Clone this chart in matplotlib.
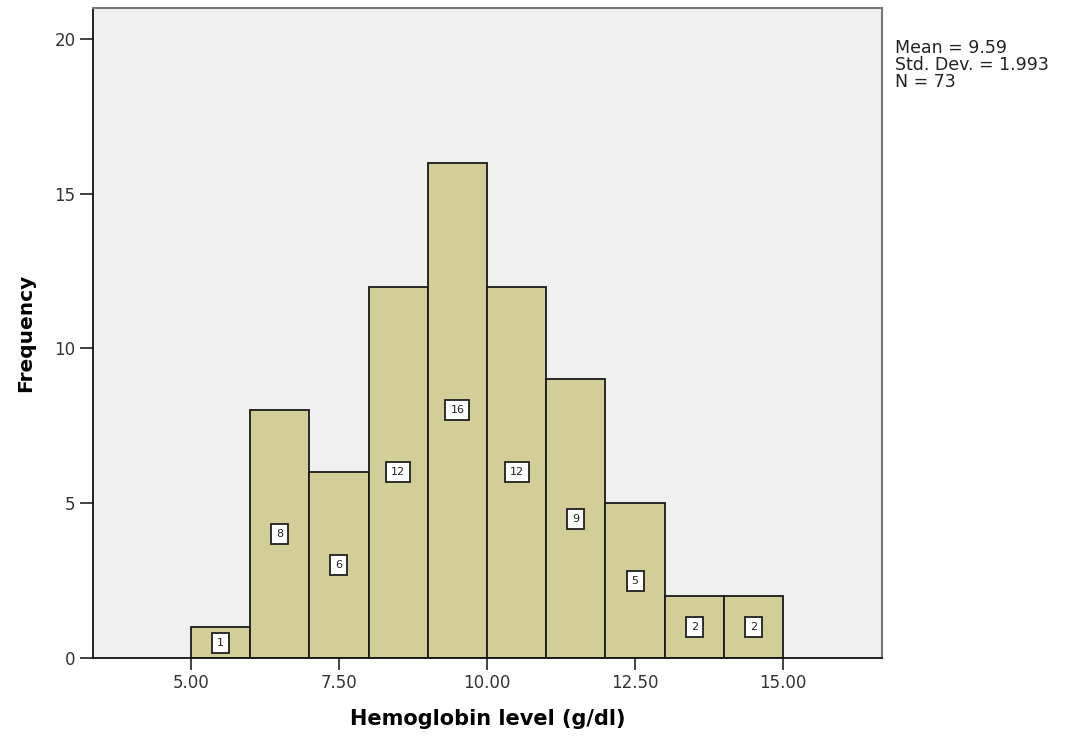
import numpy as np
import matplotlib
matplotlib.use("Agg")
import matplotlib.pyplot as plt

# histogram of hemoglobin level (bins of width 1 g/dl)
bin_edges = [5, 6, 7, 8, 9, 10, 11, 12, 13, 14, 15]
counts = [1, 8, 6, 12, 16, 12, 9, 5, 2, 2]
xtick_vals = [5.0, 7.5, 10.0, 12.5, 15.0]
ytick_vals = [0, 5, 10, 15, 20]
stats_text = ["Mean = 9.59", "Std. Dev. = 1.993", "N = 73"]

plt.rcParams['font.family'] = ['DejaVu Sans']

fig = plt.figure(figsize=(10.65, 7.37), dpi=100)
ax = fig.add_axes([0.0873, 0.1072, 0.7408, 0.8819])
ax.set_facecolor('#f0f0f0')

lefts = np.array(bin_edges[:-1])
widths = np.diff(bin_edges)
ax.bar(lefts, counts, width=widths, align='edge', color='#d3ce97',
       edgecolor='#1a1a1a', linewidth=1.3, zorder=2)

for x, w, c in zip(lefts, widths, counts):
    ax.text(x + w / 2, c / 2, str(c), ha='center', va='center', fontsize=8,
            color='#202020', zorder=3,
            bbox=dict(boxstyle='square,pad=0.45', fc='white', ec='#202020', lw=1.3))

ax.set_xlim(3.345, 16.67)
ax.set_ylim(0, 21.0)
ax.set_xticks(xtick_vals)
ax.set_xticklabels([f"{v:.2f}" for v in xtick_vals])
ax.set_yticks(ytick_vals)
ax.tick_params(axis='both', direction='out', width=1.2, color='#222222',
               labelsize=12, labelcolor='#333333', pad=3)
ax.tick_params(axis='y', length=9.5)
ax.tick_params(axis='x', length=8.5)

for side in ['left', 'bottom']:
    ax.spines[side].set_color('#111111')
    ax.spines[side].set_linewidth(1.3)
for side in ['top', 'right']:
    ax.spines[side].set_color('#777777')
    ax.spines[side].set_linewidth(1.5)

ax.set_xlabel("Hemoglobin level (g/dl)", fontsize=15, fontweight='bold', labelpad=12)
ax.set_ylabel("Frequency", fontsize=14.5, fontweight='bold', labelpad=14)

fig.text(0.840, 0.912, "\n".join(stats_text), ha='left', va='center',
         fontsize=12.5, color='#222222', linespacing=0.93)

fig.savefig("out.png", dpi=100)
